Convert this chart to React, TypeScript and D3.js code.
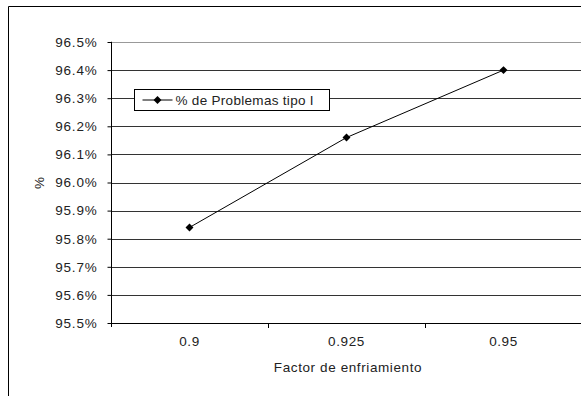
import { useRef, useEffect } from "react";
import * as d3 from "d3";

const categories = ["0.9", "0.925", "0.95"];
const values = [95.84, 96.16, 96.4];
const yTicks = [95.5, 95.6, 95.7, 95.8, 95.9, 96.0, 96.1, 96.2, 96.3, 96.4, 96.5];
const seriesName = "% de Problemas tipo I";

const W = 581;
const H = 396;
const FONT = "'Liberation Sans', Arial, sans-serif";
const FS = "13.5px";

export default function App() {
  const svgRef = useRef<SVGSVGElement>(null);

  useEffect(() => {
    const svg = d3.select(svgRef.current);
    svg.selectAll("*").remove();

    const left = 111;
    const right = 582;
    const top = 42;
    const bottom = 323;

    // outer frame
    svg
      .append("path")
      .attr("d", `M8.5,${H} V6.5 H${W}`)
      .attr("fill", "none")
      .attr("stroke", "#000")
      .attr("stroke-width", 1);

    const x = d3.scaleBand().domain(categories).range([left, right]);
    const y = d3.scaleLinear().domain([95.5, 96.5]).range([bottom, top]);

    // gridlines
    svg
      .append("g")
      .selectAll("line")
      .data(yTicks)
      .join("line")
      .attr("x1", left)
      .attr("x2", W)
      .attr("y1", (d) => Math.round(y(d)) + 0.5)
      .attr("y2", (d) => Math.round(y(d)) + 0.5)
      .attr("stroke", (d, i) => (i === yTicks.length - 1 ? "#999" : "#333"))
      .attr("stroke-width", 1);

    // y axis
    const yAxis = svg
      .append("g")
      .attr("transform", `translate(${left + 0.5},0)`)
      .call(
        d3
          .axisLeft(y)
          .tickValues(yTicks)
          .tickSize(4)
          .tickPadding(10)
          .tickFormat((d) => (d as number).toFixed(1) + "%")
      );
    yAxis.select(".domain").attr("stroke", "#000").attr("d", `M-0.5,${top}H0V${bottom + 4}`);
    yAxis.selectAll(".tick line").attr("stroke", "#000");
    yAxis
      .selectAll(".tick text")
      .attr("fill", "#222")
      .style("font-family", FONT)
      .style("font-size", FS)
      .style("letter-spacing", "0.8px");

    // x axis
    const xAxis = svg
      .append("g")
      .attr("transform", `translate(0,${bottom + 0.5})`)
      .call(d3.axisBottom(x).tickSize(0).tickPadding(13));
    xAxis.select(".domain").attr("stroke", "#000").attr("d", `M${left},0H${W}`);
    xAxis
      .selectAll(".tick text")
      .attr("fill", "#222")
      .style("font-family", FONT)
      .style("font-size", FS)
      .style("letter-spacing", "0.6px");
    // category separators
    svg
      .append("g")
      .selectAll("line")
      .data(categories.slice(1))
      .join("line")
      .attr("x1", (d) => Math.round(x(d)!) + 0.5)
      .attr("x2", (d) => Math.round(x(d)!) + 0.5)
      .attr("y1", bottom)
      .attr("y2", bottom + 5)
      .attr("stroke", "#000");

    // series
    const line = d3
      .line<number>()
      .x((_, i) => x(categories[i])! + x.bandwidth() / 2)
      .y((d) => y(d));
    svg
      .append("path")
      .datum(values)
      .attr("d", line)
      .attr("fill", "none")
      .attr("stroke", "#000")
      .attr("stroke-width", 1);

    const diamond = d3.symbol().type(d3.symbolDiamond2).size(40);
    svg
      .append("g")
      .selectAll("path")
      .data(values)
      .join("path")
      .attr("d", diamond)
      .attr(
        "transform",
        (d, i) => `translate(${x(categories[i])! + x.bandwidth() / 2},${y(d)})`
      )
      .attr("fill", "#000");

    // axis titles
    svg
      .append("text")
      .attr("x", 348)
      .attr("y", 372)
      .attr("text-anchor", "middle")
      .attr("fill", "#222")
      .style("font-family", FONT)
      .style("font-size", FS)
      .style("letter-spacing", "0.6px")
      .text("Factor de enfriamiento");
    svg
      .append("text")
      .attr("transform", `translate(44,183) rotate(-90)`)
      .attr("text-anchor", "middle")
      .attr("fill", "#222")
      .style("font-family", FONT)
      .style("font-size", FS)
      .text("%");

    // legend
    const lg = svg.append("g").attr("transform", "translate(134.5,89.5)");
    lg.append("rect")
      .attr("width", 195)
      .attr("height", 21)
      .attr("fill", "#fff")
      .attr("stroke", "#000");
    lg.append("line")
      .attr("x1", 8)
      .attr("x2", 38)
      .attr("y1", 10.5)
      .attr("y2", 10.5)
      .attr("stroke", "#000");
    lg.append("path")
      .attr("d", diamond)
      .attr("transform", "translate(23,10.5)")
      .attr("fill", "#000");
    lg.append("text")
      .attr("x", 41)
      .attr("y", 15.5)
      .attr("fill", "#222")
      .style("font-family", FONT)
      .style("font-size", FS)
      .style("letter-spacing", "0.3px")
      .text(seriesName);
  }, []);

  return (
    <svg
      ref={svgRef}
      width={W}
      height={H}
      style={{ position: "absolute", left: 0, top: 0, background: "#fff" }}
    />
  );
}
